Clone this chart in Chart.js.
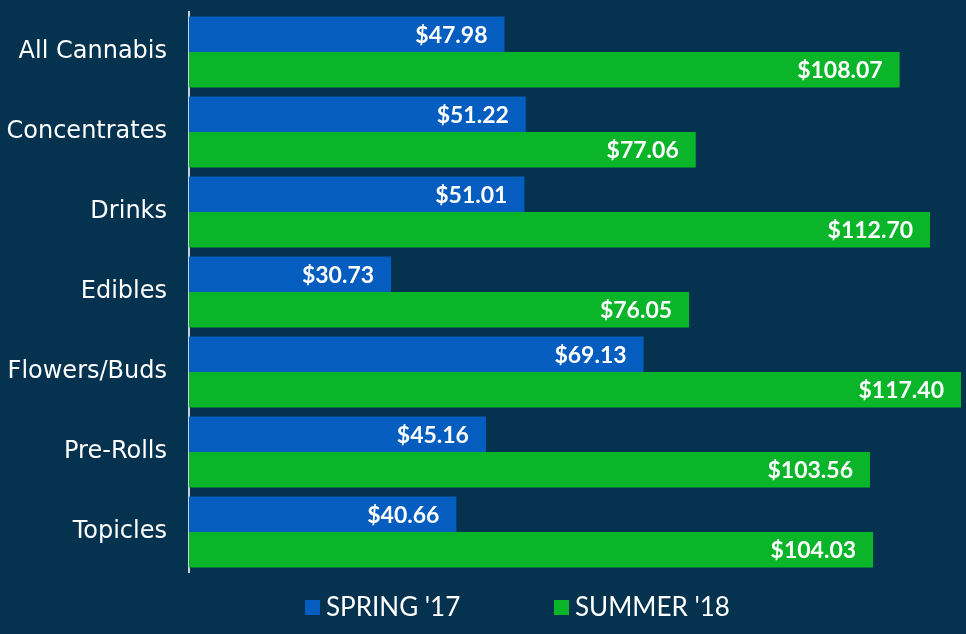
<!DOCTYPE html>
<html>
<head>
<meta charset="utf-8">
<script src="https://cdn.jsdelivr.net/npm/chart.js@4"></script>
<style>
  html, body { margin: 0; padding: 0; background: #04324f; }
  #wrap { width: 966px; height: 634px; position: relative; }
</style>
</head>
<body>
<div id="wrap"><canvas id="c" width="966" height="634"></canvas></div>
<script>
const categories = ["All Cannabis", "Concentrates", "Drinks", "Edibles", "Flowers/Buds", "Pre-Rolls", "Topicles"];
const spring17 = [47.98, 51.22, 51.01, 30.73, 69.13, 45.16, 40.66];
const summer18 = [108.07, 77.06, 112.70, 76.05, 117.40, 103.56, 104.03];
const seriesNames = ["SPRING '17", "SUMMER '18"];

const BG = '#04324f';
const BLUE = '#045dbf';
const GREEN = '#0bb52a';

const bgPlugin = {
  id: 'bg',
  beforeDraw(chart) {
    const ctx = chart.ctx;
    ctx.save();
    ctx.fillStyle = BG;
    ctx.fillRect(0, 0, chart.width, chart.height);
    ctx.restore();
  }
};

const valueLabels = {
  id: 'valueLabels',
  afterDatasetsDraw(chart) {
    const ctx = chart.ctx;
    ctx.save();
    ctx.fillStyle = '#ffffff';
    ctx.font = 'bold 23px Lato';
    ctx.textAlign = 'right';
    ctx.textBaseline = 'middle';
    chart.data.datasets.forEach((ds, di) => {
      const meta = chart.getDatasetMeta(di);
      meta.data.forEach((bar, i) => {
        const v = ds.data[i];
        ctx.fillText('$' + v.toFixed(2), bar.x - 17, bar.y + 1);
      });
    });
    ctx.restore();
  }
};

const customLegend = {
  id: 'customLegend',
  afterDraw(chart) {
    const ctx = chart.ctx;
    ctx.save();
    ctx.font = '26px Lato';
    ctx.textBaseline = 'middle';
    ctx.textAlign = 'left';
    const y = 608;
    const starts = [305, 554];
    chart.data.datasets.forEach((ds, di) => {
      const x = starts[di];
      ctx.fillStyle = ds.backgroundColor;
      ctx.fillRect(x, y - 8, 15, 15);
      ctx.fillStyle = '#ffffff';
      ctx.fillText(ds.label, x + 21, y);
    });
    ctx.restore();
  }
};

new Chart(document.getElementById('c'), {
  type: 'bar',
  data: {
    labels: categories,
    datasets: [
      { label: seriesNames[0], data: spring17, backgroundColor: BLUE, borderWidth: 0 },
      { label: seriesNames[1], data: summer18, backgroundColor: GREEN, borderWidth: 0 }
    ]
  },
  options: {
    indexAxis: 'y',
    responsive: false,
    animation: false,
    devicePixelRatio: 1,
    categoryPercentage: 0.885,
    barPercentage: 1.0,
    layout: { padding: { top: 12, bottom: 62, left: 0, right: 5 } },
    plugins: {
      legend: { display: false },
      tooltip: { enabled: false }
    },
    scales: {
      x: {
        display: false,
        min: 0,
        max: 117.4
      },
      y: {
        grid: { display: false, drawTicks: false },
        border: { display: true, color: '#c9ced4', width: 2 },
        ticks: {
          color: '#ffffff',
          font: { family: 'DejaVu Sans', size: 24 },
          padding: 22
        },
        afterFit(scale) {
          scale.width = 189;
          scale.paddingTop = 0;
          scale.paddingBottom = 0;
        }
      }
    }
  },
  plugins: [bgPlugin, valueLabels, customLegend]
});
</script>
</body>
</html>
